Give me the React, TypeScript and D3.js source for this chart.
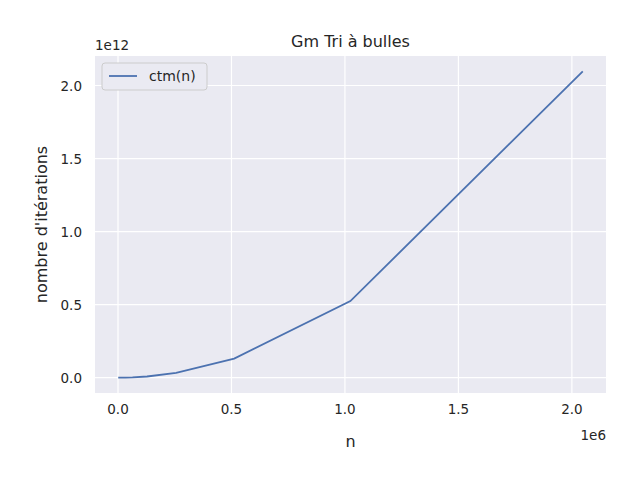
import * as d3 from 'd3'

// n = 1000 * 2^k, ctm(n) = n^2 / 2
const nValues = [1000, 2000, 4000, 8000, 16000, 32000, 64000, 128000, 256000, 512000, 1024000, 2048000]
const ctmValues = [5e5, 2e6, 8e6, 3.2e7, 1.28e8, 5.12e8, 2.048e9, 8.192e9, 3.2768e10, 1.31072e11, 5.24288e11, 2.097152e12]
const xTicks = [0, 0.5, 1.0, 1.5, 2.0]
const yTicks = [0, 0.5, 1.0, 1.5, 2.0]

const W = 640
const H = 480
const left = 95, right = 606, top = 56, bottom = 393
const font = 'DejaVu Sans, sans-serif'
const ink = '#262626'

export default function App() {
  const xs = nValues.map((v) => v / 1e6)
  const ys = ctmValues.map((v) => v / 1e12)
  const xPad = (d3.max(xs)! - d3.min(xs)!) * 0.05
  const yPad = (d3.max(ys)! - d3.min(ys)!) * 0.05
  const x = d3.scaleLinear().domain([d3.min(xs)! - xPad, d3.max(xs)! + xPad]).range([left, right])
  const y = d3.scaleLinear().domain([d3.min(ys)! - yPad, d3.max(ys)! + yPad]).range([bottom, top])
  const line = d3.line<number>().x((_, i) => x(xs[i])).y((_, i) => y(ys[i]))

  return (
    <svg width={W} height={H} style={{ position: 'absolute', left: 0, top: 0, background: '#fff' }} fontFamily={font}>
      <rect x={left} y={top} width={right - left} height={bottom - top} fill="#EAEAF2" />
      {xTicks.map((t) => (
        <g key={'x' + t}>
          <line x1={x(t)} x2={x(t)} y1={top} y2={bottom} stroke="#fff" strokeWidth={1.2} />
          <text x={x(t)} y={bottom + 21} textAnchor="middle" fontSize={13.5} fill={ink}>{t.toFixed(1)}</text>
        </g>
      ))}
      {yTicks.map((t) => (
        <g key={'y' + t}>
          <line x1={left} x2={right} y1={y(t)} y2={y(t)} stroke="#fff" strokeWidth={1.2} />
          <text x={left - 13} y={y(t) + 5} textAnchor="end" fontSize={13.5} fill={ink}>{t.toFixed(1)}</text>
        </g>
      ))}
      <path d={line(xs)!} fill="none" stroke="#4C72B0" strokeWidth={1.8} />
      <text x={95} y={50} fontSize={13.5} fill={ink}>1e12</text>
      <text x={606} y={440} textAnchor="end" fontSize={13.5} fill={ink}>1e6</text>
      <text x={(left + right) / 2} y={447} textAnchor="middle" fontSize={16} fill={ink}>n</text>
      <text transform={`translate(47,${(top + bottom) / 2}) rotate(-90)`} textAnchor="middle" fontSize={16} fill={ink}>nombre d'itérations</text>
      <text x={(left + right) / 2} y={47} textAnchor="middle" fontSize={16} fill={ink}>Gm Tri à bulles</text>
      <rect x={102} y={63} width={105} height={27} rx={3} fill="#EAEAF2" stroke="#ccc" strokeWidth={1} />
      <line x1={109} x2={137} y1={76} y2={76} stroke="#4C72B0" strokeWidth={1.8} />
      <text x={149} y={81} fontSize={14} fill={ink}>ctm(n)</text>
    </svg>
  )
}
